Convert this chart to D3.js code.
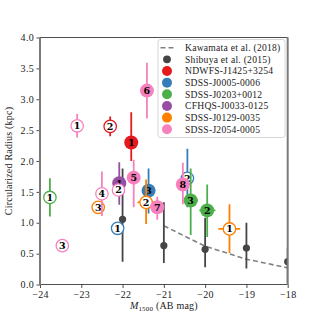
<!DOCTYPE html>
<html><head><meta charset="utf-8">
<script src="https://cdn.jsdelivr.net/npm/d3@7/dist/d3.min.js"></script>
<style>body{margin:0;background:#fff}svg{display:block}</style>
</head><body>
<script>
// ---- data ----
const qsoNames = ["NDWFS-J1425+3254","SDSS-J0005-0006","SDSS-J0203+0012","CFHQS-J0033-0125","SDSS-J0129-0035","SDSS-J2054-0005"];
// companions: qso index, label, filled, M1500, R, R range, M range
const compQso    = [0,0, 1,1,1, 2,2,2, 3, 4,4,4, 5,5,5,5,5,5,5,5];
const compLabel  = ["2","1", "1","3","2", "1","3","2", "1", "3","2","1", "1","3","4","2","6","5","7","8"];
const compFilled = [0,1, 0,1,0, 0,1,1, 1, 0,0,0, 0,0,0,0,1,1,1,1];
const compM      = [-22.30,-21.79, -22.12,-21.37,-20.43, -23.76,-20.35,-19.95, -22.08, -22.59,-21.43,-19.41, -23.10,-23.46,-22.50,-22.10,-21.41,-21.73,-21.16,-20.54];
const compR      = [2.56,2.30, 0.91,1.52,1.72, 1.41,1.36,1.20, 1.64, 1.25,1.33,0.90, 2.57,0.63,1.47,1.53,3.14,1.73,1.25,1.62];
const compRlo    = [2.40,2.00, null,1.15,1.25, 1.10,0.80,0.77, 1.29, null,0.98,0.51, 2.38,null,1.11,null,2.69,1.25,1.05,1.30];
const compRhi    = [2.72,2.79, null,1.88,2.20, 1.72,1.88,1.62, 1.98, null,1.70,1.30, 2.76,null,1.83,null,3.59,2.02,1.42,1.97];
const compMlo    = [null,null, null,null,null, null,-20.53,-20.14, null, null,-21.64,-19.68, null,null,null,null,null,null,null,null];
const compMhi    = [null,null, null,null,null, null,-20.17,-19.75, null, null,-21.24,-19.15, null,null,null,null,null,null,null,null];
// Shibuya et al. (2015)
const shibM   = [-22.0,-21.0,-20.0,-19.0,-18.0];
const shibR   = [1.055,0.63,0.57,0.59,0.37];
const shibRlo = [0.37,0.35,0.28,0.26,0.02];
const shibRhi = [1.88,1.33,1.08,1.00,0.59];
// Kawamata et al. (2018)
const kawaM = [-21,-20,-19,-18];
const kawaR = [0.95,0.62,0.41,0.27];
const xTicks = [-24,-23,-22,-21,-20,-19,-18];
const yTicks = [0,0.5,1,1.5,2,2.5,3,3.5,4];

// ---- style ----
const colors = ["#e41a1c","#377eb8","#4daf4a","#984ea3","#ff7f00","#f781bf"];
const shibColor = "#454545";
const FONT = "'Liberation Serif', serif";
const W=320,H=320, L=40, R=287.7, T=37.5, B=284.5;

const svg = d3.select("body").append("svg").attr("width",W).attr("height",H)
  .style("font-family",FONT);
const x = d3.scaleLinear().domain([-24,-18]).range([L,R]);
const y = d3.scaleLinear().domain([0,4]).range([B,T]);

svg.append("clipPath").attr("id","clip").append("rect")
  .attr("x",L).attr("y",T).attr("width",R-L).attr("height",B-T);
const plot = svg.append("g").attr("clip-path","url(#clip)");

// axes
const fmtX = d => d3.format("d")(d).replace("-","\u2212");
const xAxis = svg.append("g").attr("transform",`translate(0,${B})`)
  .call(d3.axisBottom(x).tickValues(xTicks).tickSize(3.5).tickPadding(2.5).tickFormat(fmtX));
const yAxis = svg.append("g").attr("transform",`translate(${L},0)`)
  .call(d3.axisLeft(y).tickValues(yTicks).tickSize(3.5).tickPadding(2.5).tickFormat(d3.format(".1f")));
[xAxis,yAxis].forEach(a=>{
  a.select(".domain").remove();
  a.selectAll("line").attr("stroke","#222").attr("stroke-width",0.8);
  a.selectAll("text").attr("font-family",FONT).attr("font-size",10).attr("letter-spacing",0.3).attr("fill","#222");
});

// Kawamata dashed relation
plot.append("path").datum(kawaM.map((m,i)=>[m,kawaR[i]]))
  .attr("d",d3.line().x(d=>x(d[0])).y(d=>y(d[1])))
  .attr("fill","none").attr("stroke","#808080").attr("stroke-width",1.6)
  .attr("stroke-dasharray","5,3");

// Shibuya points
shibM.forEach((m,i)=>{
  plot.append("line").attr("x1",x(m)).attr("x2",x(m))
    .attr("y1",y(shibRlo[i])).attr("y2",y(shibRhi[i]))
    .attr("stroke",shibColor).attr("stroke-width",1.8);
  plot.append("circle").attr("cx",x(m)).attr("cy",y(shibR[i])).attr("r",3.6)
    .attr("fill",shibColor);
});

// companions, drawn in legend order
const order = d3.range(compM.length).sort((a,b)=>compQso[a]-compQso[b] || a-b);
order.forEach(i=>{
  const c = colors[compQso[i]];
  const cx = x(compM[i]), cy = y(compR[i]);
  const g = plot.append("g");
  if (compRlo[i]!==null) g.append("line").attr("x1",cx).attr("x2",cx)
      .attr("y1",y(compRlo[i])).attr("y2",y(compRhi[i])).attr("stroke",c).attr("stroke-width",1.8);
  if (compMlo[i]!==null) g.append("line").attr("y1",cy).attr("y2",cy)
      .attr("x1",x(compMlo[i])).attr("x2",x(compMhi[i])).attr("stroke",c).attr("stroke-width",1.8);
  if (compFilled[i]) g.append("circle").attr("cx",cx).attr("cy",cy).attr("r",7).attr("fill",c);
  else g.append("circle").attr("cx",cx).attr("cy",cy).attr("r",6.2).attr("fill","#fff")
      .attr("stroke",c).attr("stroke-width",1.3);
  g.append("text").attr("x",cx).attr("y",cy).attr("dy","0.36em").attr("text-anchor","middle")
    .attr("font-family","'DejaVu Serif', serif").attr("font-weight","bold").attr("font-size",9.5)
    .attr("fill","#000").text(compLabel[i]);
});

// spines
svg.append("line").attr("x1",L).attr("x2",R).attr("y1",T).attr("y2",T).attr("stroke","#222").attr("stroke-width",0.8);
svg.append("line").attr("x1",L).attr("x2",R).attr("y1",B).attr("y2",B).attr("stroke","#222").attr("stroke-width",0.8);
svg.append("line").attr("x1",L).attr("x2",L).attr("y1",T).attr("y2",B+0.4).attr("stroke","#7a7a7a").attr("stroke-width",2);
svg.append("line").attr("x1",R).attr("x2",R).attr("y1",T).attr("y2",B+0.4).attr("stroke","#7a7a7a").attr("stroke-width",2);

// legend
const lg = svg.append("g");
lg.append("rect").attr("x",158).attr("y",39.5).attr("width",127).attr("height",98).attr("rx",2.5)
  .attr("fill","#fff").attr("fill-opacity",0.85).attr("stroke","#cccccc").attr("stroke-width",0.8);
const legY0 = 47.7, legDy = 11.65, legMX = 167, legTX = 185;
const legLabels = ["Kawamata et al. (2018)","Shibuya et al. (2015)"].concat(qsoNames);
legLabels.forEach((t,k)=>{
  const yy = legY0 + k*legDy;
  if (k===0) lg.append("line").attr("x1",160.5).attr("x2",176).attr("y1",yy).attr("y2",yy)
      .attr("stroke","#808080").attr("stroke-width",1.6).attr("stroke-dasharray","5,3");
  else if (k===1) lg.append("circle").attr("cx",legMX).attr("cy",yy).attr("r",3.9).attr("fill",shibColor);
  else lg.append("circle").attr("cx",legMX).attr("cy",yy).attr("r",5).attr("fill",colors[k-2]);
  lg.append("text").attr("x",legTX).attr("y",yy).attr("dy","0.35em").attr("font-size",9.6)
    .attr("letter-spacing",0.25).attr("fill","#222").text(t);
});

// axis labels
const xl = svg.append("text").attr("x",(L+R)/2).attr("y",309).attr("text-anchor","middle")
  .attr("font-size",10).attr("letter-spacing",0.2).attr("fill","#222");
xl.append("tspan").attr("font-style","italic").text("M");
xl.append("tspan").attr("font-size",7).attr("dy",2).text("1500");
xl.append("tspan").attr("dy",-2).text(" (AB mag)");
svg.append("text").attr("transform",`translate(12,${(T+B)/2}) rotate(-90)`)
  .attr("text-anchor","middle").attr("font-size",10).attr("letter-spacing",0.2).attr("fill","#222")
  .text("Circularized Radius (kpc)");
</script>
</body></html>
